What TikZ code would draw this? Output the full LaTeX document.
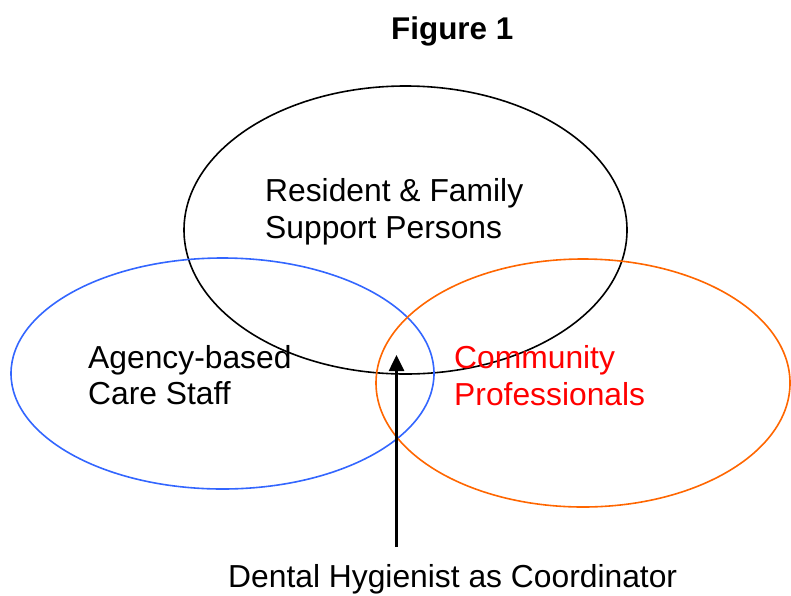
\documentclass[tikz,border=0pt]{standalone}
\usepackage{fontspec}
\setmainfont{Liberation Sans}
\usetikzlibrary{arrows.meta}
\definecolor{vblue}{RGB}{51,102,255}
\definecolor{vorange}{RGB}{255,102,0}
\definecolor{vred}{RGB}{255,0,0}
\tikzset{
  lbl/.style={anchor=base west, inner sep=0pt, font=\fontsize{31.8}{37}\selectfont},
  ring/.style={line width=1.6pt},
}
\begin{document}
\begin{tikzpicture}[x=1pt,y=-1pt]
\useasboundingbox (0,0) rectangle (791,595);
\draw[ring, black] (405.5,230) ellipse [x radius=221.5, y radius=144];
\draw[ring, vblue] (222.5,373.5) ellipse [x radius=211.5, y radius=115.5];
\draw[ring, vorange] (583,383) ellipse [x radius=207, y radius=124];
\node[lbl, font=\fontsize{31.4}{37}\selectfont\bfseries] (title) at (391,39) {Figure 1};
\node[lbl] (res1) at (265,201) {Resident \& Family};
\node[lbl] (res2) at (265,238) {Support Persons};
\node[lbl] (ag1) at (88,368) {Agency-based};
\node[lbl] (ag2) at (88,404) {Care Staff};
\node[lbl, text=vred] (com1) at (454,368) {Community};
\node[lbl, text=vred] (com2) at (454,405) {Professionals};
\node[lbl] (dh) at (228,587) {Dental Hygienist as Coordinator};
\coordinate (tail) at (396.5,547);
\coordinate (tip) at (396.5,355);
\draw[line width=2.6pt, -{Triangle[width=15pt,length=16pt]}] (tail) -- (tip);
\end{tikzpicture}
\end{document}
